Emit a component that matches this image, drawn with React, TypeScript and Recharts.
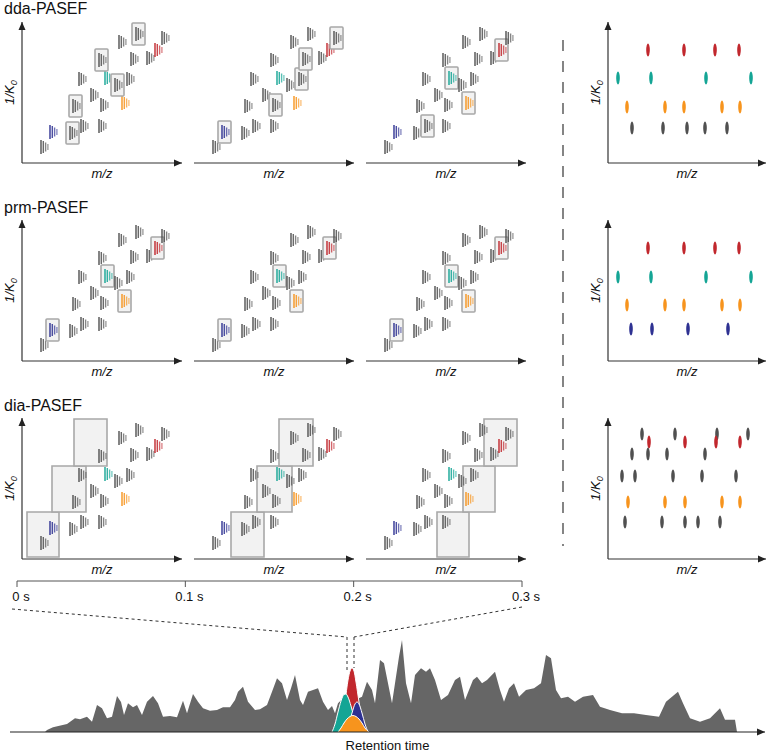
import React from 'react';
import {
  ScatterChart,
  Scatter,
  ComposedChart,
  Area,
  XAxis,
  YAxis,
  Label,
  ReferenceArea,
  ReferenceDot,
  ReferenceLine,
} from 'recharts';

const FONT = 'Arial, "Liberation Sans", Helvetica, sans-serif';

const COLORS: Record<string, string> = {
  gray: '#505050',
  blue: '#2e3192',
  teal: '#14a595',
  orange: '#f7941d',
  red: '#c1272d',
};

// precursor isotope patterns, same in every MS1 panel (m/z, 1/K0 in panel units)
const featMz = [19, 28, 48, 59, 77, 51, 69, 79, 100, 57, 83, 93, 105, 77, 109, 125, 133, 97, 114, 140];
const featK0 = [16, 31, 30, 37, 37, 57, 68, 58, 60, 84, 85, 78, 84, 103, 104, 105, 113, 121, 129, 125];
const featKind = [
  'gray', 'blue', 'gray', 'gray', 'gray', 'gray', 'gray', 'gray', 'orange', 'gray',
  'teal', 'gray', 'gray', 'gray', 'gray', 'gray', 'red', 'gray', 'gray', 'gray',
];

// selected precursors per panel (indices into the feature list)
const ddaBoxes = [[2, 5, 11, 13, 18], [1, 7, 12, 14, 19], [3, 8, 10, 16]];
const prmBoxes = [[1, 8, 10, 16], [1, 8, 10, 16], [1, 8, 10, 16]];

// dia-PASEF isolation windows per panel: [mz1, mz2, k01, k02]
const diaWindows = [
  [[5, 37, 2, 47], [30, 64, 47, 93], [52, 85, 93, 140]],
  [[37, 70, 2, 47], [63, 98, 47, 93], [85, 119, 93, 140]],
  [[71, 103, 2, 47], [97, 129, 47, 93], [118, 151, 93, 140]],
];

// fragment spots in the MS2 panels on the right
const ddaSpotMz = [40, 76, 107, 131, 10, 43, 98, 143, 19, 57, 76, 114, 132, 24, 55, 79, 97, 119];
const ddaSpotK0 = [113, 113, 113, 113, 85, 85, 85, 85, 56, 56, 56, 56, 56, 35, 35, 35, 35, 35];
const ddaSpotKind = [
  'red', 'red', 'red', 'red', 'teal', 'teal', 'teal', 'teal',
  'orange', 'orange', 'orange', 'orange', 'orange', 'gray', 'gray', 'gray', 'gray', 'gray',
];

const prmSpotMz = [40, 76, 107, 131, 10, 43, 98, 143, 19, 57, 76, 114, 132, 23, 44, 80, 120];
const prmSpotK0 = [113, 113, 113, 113, 84, 84, 84, 84, 56, 56, 56, 56, 56, 32, 32, 32, 32];
const prmSpotKind = [
  'red', 'red', 'red', 'red', 'teal', 'teal', 'teal', 'teal',
  'orange', 'orange', 'orange', 'orange', 'orange', 'blue', 'blue', 'blue', 'blue',
];

const diaSpotMz = [
  34, 67, 109, 140, 41, 77, 108, 132, 24, 40, 59, 97,
  14, 27, 65, 94, 128, 20, 57, 77, 114, 132, 17, 54, 77, 90, 112,
];
const diaSpotK0 = [
  125, 125, 125, 125, 117, 117, 117, 117, 105, 105, 105, 105,
  83, 83, 83, 83, 83, 57, 57, 57, 57, 57, 37, 37, 37, 37, 37,
];
const diaSpotKind = [
  'gray', 'gray', 'gray', 'gray', 'red', 'red', 'red', 'red', 'gray', 'gray', 'gray', 'gray',
  'gray', 'gray', 'gray', 'gray', 'gray', 'orange', 'orange', 'orange', 'orange', 'orange',
  'gray', 'gray', 'gray', 'gray', 'gray',
];

// time axis of one TIMS scan cycle
const timeTicks = [0, 0.1, 0.2, 0.3];

// chromatogram (retention time, intensity)
const rtTic = [
  45, 47, 53, 67, 75, 80, 87, 92, 97, 102, 107, 112, 117, 121, 124, 128, 133, 137, 142, 147,
  153, 158, 163, 170, 177, 183, 187, 193, 198, 203, 210, 217, 223, 230, 235, 238, 243, 248, 255, 260,
  267, 272, 277, 282, 287, 291, 295, 300, 303, 308, 313, 318, 323, 328, 332, 335, 338, 343, 348, 355,
  362, 367, 372, 375, 380, 384, 392, 399, 402, 406, 411, 415, 421, 426, 430, 435, 441, 448, 455, 460,
  465, 473, 477, 482, 487, 495, 500, 504, 509, 514, 519, 526, 534, 541, 546, 551, 556, 561, 568, 575,
  583, 593, 600, 610, 622, 634, 646, 659, 666, 678, 683, 690, 700, 710, 720, 725, 735, 737,
];
const tic = [
  0, 2, 4.7, 8, 13.7, 12.7, 15.3, 10.3, 27, 23.7, 13.7, 15.3, 36, 30, 17, 28.7, 24.7, 27, 17, 30.3,
  36, 28.7, 15.3, 16, 14.7, 31.3, 18.7, 38, 30.3, 23.7, 21.3, 22, 24.7, 24.7, 32, 40.3, 45.3, 30.3, 22, 22.7,
  27, 40.3, 53.7, 48.7, 32, 43.7, 57, 32, 27, 40.3, 42, 43.7, 30.3, 22, 26, 18.7, 28.7, 33.7, 35.3, 32,
  35.3, 50.3, 42, 28.7, 72, 68.7, 28.7, 75.3, 92, 48.7, 28.7, 57, 63.7, 60.3, 63.7, 52, 32, 37, 52, 55.3,
  32, 52, 55.3, 48.7, 52, 60.3, 42, 30.3, 43.7, 48.7, 35.3, 42, 43.7, 48.7, 77, 73.7, 42, 33.7, 35.3, 30.3,
  35.3, 37, 25.3, 22, 18.7, 18.7, 17, 15.3, 30.3, 40.3, 28.7, 13.7, 10.3, 13.7, 23.7, 12.3, 12.3, 0,
];

// extracted ion chromatograms of the four coloured precursors
const rtRed = [338, 342, 345, 348, 350, 352, 354, 356, 359, 362, 366];
const redXic = [0, 10, 30, 52, 61, 64, 61, 50, 30, 12, 0];
const rtTeal = [332, 335, 338, 341, 344, 346, 348, 351, 354, 357, 360];
const tealXic = [0, 8, 20, 31, 37.5, 38, 35, 26, 15, 6, 0];
const rtBlue = [346, 349, 352, 355, 357, 359, 362, 365, 368];
const blueXic = [0, 8, 19, 28, 30, 28, 19, 8, 0];
const rtOrange = [338, 341, 344, 347, 350, 353, 356, 359, 362, 365, 369];
const orangeXic = [0, 4, 9, 13, 15.5, 16.5, 15.5, 13, 9, 4, 0];

const buildChromRows = () => {
  const rows = new Map<number, any>();
  const add = (xs: number[], ys: number[], key: string) =>
    xs.forEach((x, i) => {
      const r = rows.get(x) ?? { rt: x };
      r[key] = ys[i];
      rows.set(x, r);
    });
  add(rtTic, tic, 'tic');
  add(rtRed, redXic, 'red');
  add(rtTeal, tealXic, 'teal');
  add(rtBlue, blueXic, 'blue');
  add(rtOrange, orangeXic, 'orange');
  return [...rows.values()].sort((a, b) => a.rt - b.rt);
};
const chromRows = buildChromRows();

// isotope envelope: a few vertical peaks, fading to the right
const Isotopes = (props: any) => {
  const { cx, cy, payload } = props;
  const c = COLORS[payload.kind];
  const hs = [14, 12, 9, 6];
  return (
    <g>
      {payload.boxed && (
        <rect x={cx - 4} y={cy - 11} width={13} height={22} rx={1} fill="#f2f2f2" stroke="#a8a8a8" strokeWidth={1.6} />
      )}
      {hs.map((h, i) => (
        <line
          key={i}
          x1={cx + i * 2.3}
          x2={cx + i * 2.3}
          y1={cy - h / 2}
          y2={cy + h / 2}
          stroke={c}
          strokeWidth={1.4}
          strokeOpacity={1 - i * 0.15}
        />
      ))}
    </g>
  );
};

const Spot = (props: any) => {
  const { cx, cy, payload } = props;
  return <ellipse cx={cx} cy={cy} rx={1.8} ry={6.5} fill={COLORS[payload.kind]} />;
};

const ArrowRight = (props: any) => {
  const { cx, cy } = props;
  return <path d={`M${cx},${cy} L${cx - 8},${cy - 3.5} L${cx - 8},${cy + 3.5} Z`} fill="#222" />;
};

const ArrowUp = (props: any) => {
  const { cx, cy } = props;
  return <path d={`M${cx},${cy} L${cx - 3.5},${cy + 8} L${cx + 3.5},${cy + 8} Z`} fill="#222" />;
};

const MzLabel = (props: any) => {
  const { x, y, width } = props.viewBox;
  return (
    <text x={x + width / 2} y={y + 15} textAnchor="middle" fontSize={13} fontStyle="italic" fontFamily={FONT} fill="#111">
      m/z
    </text>
  );
};

const K0Label = (props: any) => {
  const { x, y, height } = props.viewBox;
  const lx = x + 14;
  const ly = y + height / 2;
  return (
    <text
      x={lx}
      y={ly}
      transform={`rotate(-90 ${lx} ${ly})`}
      textAnchor="middle"
      fontSize={13}
      fontStyle="italic"
      fontFamily={FONT}
      fill="#111"
    >
      1/K
      <tspan fontSize={9} dy={3}>0</tspan>
    </text>
  );
};

const PW = 160;
const PH = 141;

function Panel(props: any) {
  const { left, top, showY, data, shape, windows, xMax = PW } = props;
  return (
    <div style={{ position: 'absolute', left: left - 22, top: top - 6 }}>
      <ScatterChart width={22 + xMax + 6} height={6 + PH + 20} margin={{ top: 6, right: 6, bottom: 0, left: showY ? 0 : 22 }}>
        <XAxis
          type="number"
          dataKey="mz"
          domain={[0, xMax]}
          tick={false}
          tickLine={false}
          axisLine={{ stroke: '#333', strokeWidth: 1.2 }}
          height={20}
        >
          <Label content={MzLabel} />
        </XAxis>
        <YAxis
          type="number"
          dataKey="k0"
          domain={[0, PH]}
          hide={!showY}
          width={22}
          tick={false}
          tickLine={false}
          axisLine={{ stroke: '#333', strokeWidth: 1.2 }}
        >
          <Label content={K0Label} />
        </YAxis>
        {(windows || []).map((w: number[], i: number) => (
          <ReferenceArea
            key={i}
            x1={w[0]}
            x2={w[1]}
            y1={w[2]}
            y2={w[3]}
            fill="#e9e9e9"
            fillOpacity={0.6}
            stroke="#a8a8a8"
            strokeWidth={1.6}
          />
        ))}
        <Scatter data={data} shape={shape} isAnimationActive={false} />
        <ReferenceDot x={xMax} y={0} shape={ArrowRight} ifOverflow="visible" />
        {showY && <ReferenceDot x={0} y={PH} shape={ArrowUp} ifOverflow="visible" />}
      </ScatterChart>
    </div>
  );
}

const featureData = (boxes: number[]) =>
  featMz.map((mz, i) => ({ mz, k0: featK0[i], kind: featKind[i], boxed: boxes.includes(i) }));

const spotData = (mzs: number[], k0s: number[], kinds: string[]) =>
  mzs.map((mz, i) => ({ mz, k0: k0s[i], kind: kinds[i] }));

const ROWS = [
  { title: 'dda-PASEF', titleTop: -1, top: 22, mode: 'dda' },
  { title: 'prm-PASEF', titleTop: 198, top: 220, mode: 'prm' },
  { title: 'dia-PASEF', titleTop: 396, top: 418, mode: 'dia' },
];
const PANEL_X = [22, 194, 366];
const RIGHT_X = 608;

const TimeTick = (props: any) => {
  const { x, y, payload } = props;
  return (
    <text x={x + 4} y={y + 12} textAnchor="middle" fontSize={13} fontFamily={FONT} fill="#111">
      {`${payload.value} s`}
    </text>
  );
};

const RtLabel = (props: any) => {
  const { x, y, width } = props.viewBox;
  return (
    <text x={x + width / 2} y={y + 18} textAnchor="middle" fontSize={13} fontFamily={FONT} fill="#111">
      Retention time
    </text>
  );
};

export default function App() {
  return (
    <div
      style={{
        position: 'absolute',
        left: 0,
        top: 0,
        width: 768,
        height: 755,
        background: '#fff',
        fontFamily: FONT,
        overflow: 'hidden',
      }}
    >
      {ROWS.map((row) => (
        <React.Fragment key={row.mode}>
          <div style={{ position: 'absolute', left: 4, top: row.titleTop, fontSize: 16, lineHeight: '20px', color: '#111' }}>
            {row.title}
          </div>
          {PANEL_X.map((x, p) => (
            <Panel
              key={p}
              left={x}
              top={row.top}
              showY={p === 0}
              shape={Isotopes}
              data={featureData(row.mode === 'dda' ? ddaBoxes[p] : row.mode === 'prm' ? prmBoxes[p] : [])}
              windows={row.mode === 'dia' ? diaWindows[p] : []}
            />
          ))}
          <Panel
            left={RIGHT_X}
            top={row.top}
            showY
            xMax={158}
            shape={Spot}
            data={
              row.mode === 'dda'
                ? spotData(ddaSpotMz, ddaSpotK0, ddaSpotKind)
                : row.mode === 'prm'
                ? spotData(prmSpotMz, prmSpotK0, prmSpotKind)
                : spotData(diaSpotMz, diaSpotK0, diaSpotKind)
            }
          />
        </React.Fragment>
      ))}

      <svg style={{ position: 'absolute', left: 558, top: 0 }} width={10} height={560}>
        <line x1={5} x2={5} y1={40} y2={546} stroke="#444" strokeWidth={1.3} strokeDasharray="11 10" />
      </svg>

      <div style={{ position: 'absolute', left: 7, top: 571 }}>
        <ComposedChart width={555} height={42} margin={{ top: 6, right: 40, bottom: 0, left: 10 }} data={timeTicks.map((t) => ({ t }))}>
          <XAxis
            type="number"
            dataKey="t"
            domain={[0, 0.3]}
            ticks={timeTicks}
            interval={0}
            tick={TimeTick}
            tickSize={6}
            tickLine={{ stroke: '#555' }}
            axisLine={{ stroke: '#555' }}
            height={32}
          />
          <YAxis hide domain={[0, 1]} />
        </ComposedChart>
      </div>

      <div style={{ position: 'absolute', left: 10, top: 595 }}>
        <ComposedChart width={758} height={159} margin={{ top: 5, right: 3, bottom: 0, left: 0 }} data={chromRows}>
          <XAxis
            type="number"
            dataKey="rt"
            domain={[10, 765]}
            tick={false}
            tickLine={false}
            axisLine={{ stroke: '#222', strokeWidth: 1.2 }}
            height={22}
          >
            <Label content={RtLabel} />
          </XAxis>
          <YAxis hide type="number" domain={[0, 132]} />
          <Area type="linear" dataKey="tic" fill="#666" fillOpacity={1} stroke="none" connectNulls isAnimationActive={false} />
          <Area type="monotone" dataKey="red" fill={COLORS.red} fillOpacity={1} stroke="#fff" strokeWidth={1} connectNulls isAnimationActive={false} />
          <Area type="monotone" dataKey="teal" fill={COLORS.teal} fillOpacity={1} stroke="#fff" strokeWidth={1} connectNulls isAnimationActive={false} />
          <Area type="monotone" dataKey="blue" fill={COLORS.blue} fillOpacity={1} stroke="#fff" strokeWidth={1} connectNulls isAnimationActive={false} />
          <Area type="monotone" dataKey="orange" fill={COLORS.orange} fillOpacity={1} stroke="#fff" strokeWidth={1} connectNulls isAnimationActive={false} />
          <ReferenceLine segment={[{ x: 12, y: 123 }, { x: 347, y: 95 }]} stroke="#333" strokeDasharray="3 3" />
          <ReferenceLine segment={[{ x: 522, y: 125 }, { x: 354, y: 95 }]} stroke="#333" strokeDasharray="3 3" />
          <ReferenceLine segment={[{ x: 347, y: 95 }, { x: 347, y: 62 }]} stroke="#333" strokeDasharray="3 3" />
          <ReferenceLine segment={[{ x: 354, y: 95 }, { x: 354, y: 64 }]} stroke="#333" strokeDasharray="3 3" />
          <ReferenceDot x={765} y={0} shape={ArrowRight} ifOverflow="visible" />
        </ComposedChart>
      </div>
    </div>
  );
}
